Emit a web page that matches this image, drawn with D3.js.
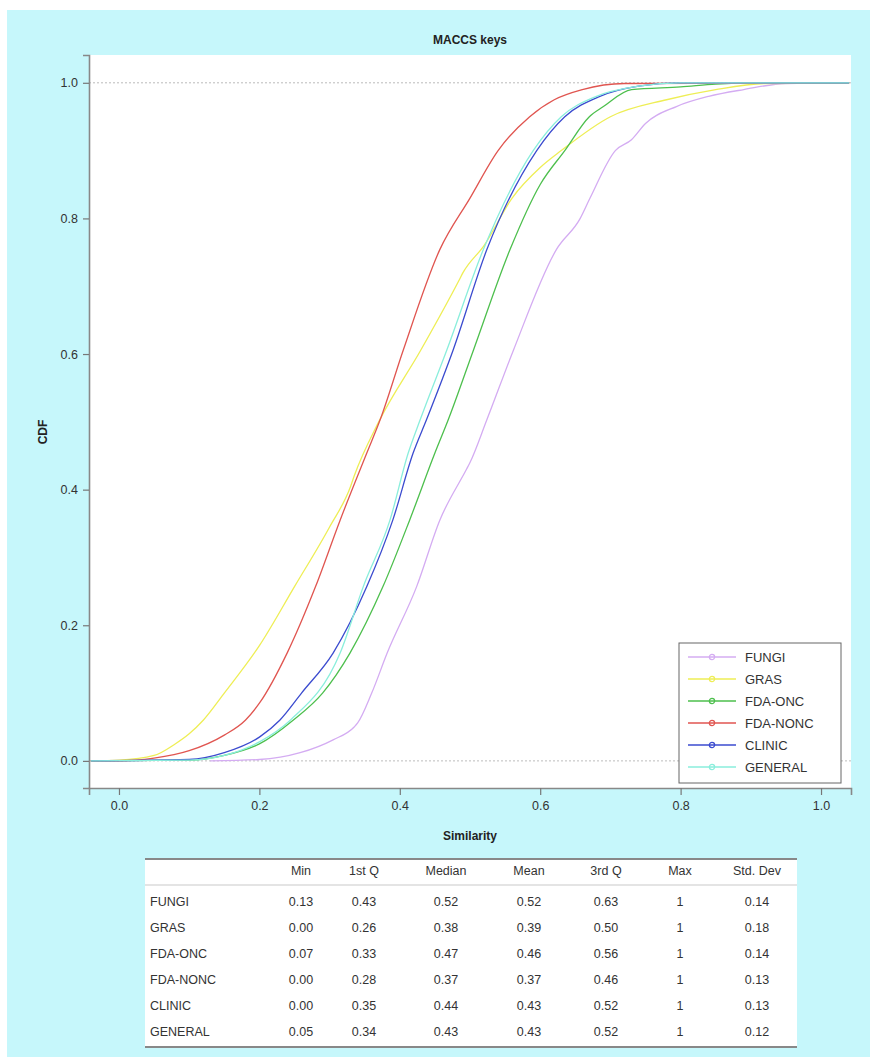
<html>
<head>
<title>MACCS keys</title>
<script src="https://d3js.org/d3.v7.min.js"></script>
<style>
  body { margin: 0; background: #fff; }
  text { font-family: "Liberation Sans", Arial, sans-serif; }
</style>
</head>
<body>
<div id="chart"></div>
<script>
// series names and colours
const seriesNames = ["FUNGI", "GRAS", "FDA-ONC", "FDA-NONC", "CLINIC", "GENERAL"];
const seriesColors = ["#d4acf2", "#eeee55", "#4dbf4d", "#e05550", "#3b4bcf", "#8aeedc"];

// CDF knots (similarity, cdf)
const fungiX   = [0.13, 0.2, 0.258, 0.305, 0.335, 0.34, 0.36, 0.382, 0.424, 0.457, 0.495, 0.5, 0.524, 0.562, 0.623, 0.657, 0.671, 0.707, 0.73, 0.75, 0.794, 0.84, 0.89, 0.95, 1.04];
const fungiY   = [0, 0.002, 0.012, 0.031, 0.05, 0.056, 0.1, 0.159, 0.257, 0.355, 0.43, 0.44, 0.503, 0.606, 0.754, 0.8, 0.83, 0.9, 0.916, 0.94, 0.965, 0.98, 0.99, 0.999, 1];
const grasX    = [-0.04, 0, 0.05, 0.08, 0.1, 0.12, 0.15, 0.2, 0.25, 0.3, 0.33, 0.335, 0.37, 0.43, 0.485, 0.49, 0.52, 0.56, 0.6, 0.63, 0.7, 0.78, 0.85, 0.92, 1.04];
const grasY    = [0, 0.001, 0.008, 0.025, 0.04, 0.06, 0.1, 0.17, 0.257, 0.345, 0.405, 0.42, 0.5, 0.606, 0.71, 0.72, 0.76, 0.83, 0.875, 0.9, 0.95, 0.975, 0.99, 0.999, 1];
const fdaOncX  = [-0.04, 0.1, 0.15, 0.2, 0.248, 0.29, 0.329, 0.376, 0.414, 0.45, 0.469, 0.505, 0.557, 0.6, 0.635, 0.67, 0.69, 0.73, 0.8, 0.85, 0.9, 1.04];
const fdaOncY  = [0, 0.001, 0.008, 0.025, 0.06, 0.1, 0.159, 0.257, 0.355, 0.454, 0.503, 0.606, 0.754, 0.85, 0.9, 0.95, 0.965, 0.99, 0.994, 0.998, 1, 1];
const fdaNoncX = [-0.04, 0, 0.05, 0.1, 0.15, 0.18, 0.2, 0.24, 0.28, 0.315, 0.353, 0.372, 0.405, 0.457, 0.5, 0.54, 0.585, 0.62, 0.66, 0.72, 1.04];
const fdaNoncY = [0, 0, 0.004, 0.015, 0.038, 0.06, 0.085, 0.16, 0.257, 0.355, 0.454, 0.503, 0.606, 0.754, 0.83, 0.9, 0.95, 0.975, 0.99, 0.999, 1];
const clinicX  = [-0.04, 0.1, 0.15, 0.2, 0.229, 0.26, 0.305, 0.353, 0.39, 0.419, 0.438, 0.476, 0.524, 0.595, 0.635, 0.685, 0.74, 0.8, 1.04];
const clinicY  = [0, 0.002, 0.012, 0.035, 0.06, 0.1, 0.159, 0.257, 0.355, 0.454, 0.503, 0.606, 0.754, 0.9, 0.95, 0.98, 0.995, 1, 1];
const generalX = [-0.04, 0.1, 0.15, 0.2, 0.244, 0.315, 0.348, 0.386, 0.412, 0.429, 0.467, 0.519, 0.59, 0.63, 0.68, 0.74, 0.8, 1.04];
const generalY = [0, 0.001, 0.008, 0.028, 0.06, 0.159, 0.257, 0.355, 0.454, 0.503, 0.606, 0.754, 0.9, 0.95, 0.98, 0.995, 1, 1];

const seriesX = [fungiX, grasX, fdaOncX, fdaNoncX, clinicX, generalX];
const seriesY = [fungiY, grasY, fdaOncY, fdaNoncY, clinicY, generalY];

const xTicks = [0, 0.2, 0.4, 0.6, 0.8, 1.0];
const yTicks = [0, 0.2, 0.4, 0.6, 0.8, 1.0];

// summary table
const tableCols = ["Min", "1st Q", "Median", "Mean", "3rd Q", "Max", "Std. Dev"];
const tableRows = [
  ["0.13", "0.43", "0.52", "0.52", "0.63", "1", "0.14"],
  ["0.00", "0.26", "0.38", "0.39", "0.50", "1", "0.18"],
  ["0.07", "0.33", "0.47", "0.46", "0.56", "1", "0.14"],
  ["0.00", "0.28", "0.37", "0.37", "0.46", "1", "0.13"],
  ["0.00", "0.35", "0.44", "0.43", "0.52", "1", "0.13"],
  ["0.05", "0.34", "0.43", "0.43", "0.52", "1", "0.12"]
];

const W = 870, H = 1057;
const svg = d3.select("#chart").append("svg").attr("width", W).attr("height", H);

// cyan frame
svg.append("rect").attr("x", 7).attr("y", 10).attr("width", W - 7).attr("height", H - 10).attr("fill", "#c6f7fb");

// plot panel
const pl = 89, pr = 851, pt = 55, pb = 788;
svg.append("rect").attr("x", pl).attr("y", pt).attr("width", pr - pl).attr("height", pb - pt).attr("fill", "#fff");

const x = d3.scaleLinear().domain([-0.0427, 1.0427]).range([pl, pr]);
const y = d3.scaleLinear().domain([-0.04, 1.041]).range([pb, pt]);

// dotted reference lines at 0 and 1
svg.selectAll(".ref").data([0, 1]).enter().append("line")
  .attr("x1", pl).attr("x2", pr)
  .attr("y1", d => y(d)).attr("y2", d => y(d))
  .attr("stroke", "#aaa").attr("stroke-width", 0.8).attr("stroke-dasharray", "2,2");

// curves
const line = d3.line().x(d => x(d[0])).y(d => y(d[1])).curve(d3.curveMonotoneX);
seriesNames.forEach((name, i) => {
  const pts = d3.zip(seriesX[i], seriesY[i]);
  svg.append("path").datum(pts).attr("d", line)
    .attr("fill", "none").attr("stroke", seriesColors[i]).attr("stroke-width", 1.3);
});

// axes
const xAxis = svg.append("g").attr("transform", "translate(0," + pb + ")")
  .call(d3.axisBottom(x).tickValues(xTicks).tickFormat(d3.format(".1f")).tickSize(7).tickPadding(6));
const yAxis = svg.append("g").attr("transform", "translate(" + pl + ",0)")
  .call(d3.axisLeft(y).tickValues(yTicks).tickFormat(d3.format(".1f")).tickSize(6).tickPadding(5));
[xAxis, yAxis].forEach(a => {
  a.select(".domain").attr("stroke", "#888").attr("stroke-width", 1.6);
  a.selectAll(".tick line").attr("stroke", "#777").attr("stroke-width", 1.2);
  a.selectAll(".tick text").attr("fill", "#333").style("font-size", "12.5px")
    .style("font-family", "'Liberation Sans', Arial, sans-serif");
});

// titles
svg.append("text").attr("x", (pl + pr) / 2).attr("y", 44).attr("text-anchor", "middle")
  .style("font-size", "12px").style("font-weight", "bold").attr("fill", "#222").text("MACCS keys");
svg.append("text").attr("x", (pl + pr) / 2).attr("y", 840).attr("text-anchor", "middle")
  .style("font-size", "12px").style("font-weight", "bold").attr("fill", "#222").text("Similarity");
svg.append("text").attr("transform", "translate(47,432) rotate(-90)").attr("text-anchor", "middle")
  .style("font-size", "12px").style("font-weight", "bold").attr("fill", "#222").text("CDF");

// legend
const lg = svg.append("g").attr("transform", "translate(679,643)");
lg.append("rect").attr("width", 162).attr("height", 140).attr("fill", "#fff").attr("stroke", "#666").attr("stroke-width", 1);
const lgScale = d3.scalePoint().domain(seriesNames).range([14, 124]);
const items = lg.selectAll(".item").data(seriesNames).enter().append("g")
  .attr("transform", d => "translate(0," + lgScale(d) + ")");
items.append("line").attr("x1", 9).attr("x2", 57).attr("stroke", (d, i) => seriesColors[i]).attr("stroke-width", 1.3);
items.append("circle").attr("cx", 33).attr("r", 2.6).attr("fill", "none").attr("stroke", (d, i) => seriesColors[i]).attr("stroke-width", 1.3);
items.append("text").attr("x", 66).attr("dy", "0.35em").style("font-size", "13px").attr("fill", "#333").text(d => d);

// table
const tl = 145, tr = 797, tTop = 859, tBot = 1047;
svg.append("rect").attr("x", tl).attr("y", tTop).attr("width", tr - tl).attr("height", tBot - tTop).attr("fill", "#fff");
svg.append("line").attr("x1", tl).attr("x2", tr).attr("y1", tTop).attr("y2", tTop).attr("stroke", "#888").attr("stroke-width", 2);
svg.append("line").attr("x1", tl).attr("x2", tr).attr("y1", tBot).attr("y2", tBot).attr("stroke", "#888").attr("stroke-width", 2);
svg.append("line").attr("x1", tl).attr("x2", tr).attr("y1", 885).attr("y2", 885).attr("stroke", "#bbb").attr("stroke-width", 0.8);

const colPos = [301, 364, 446, 529, 606, 680, 757];
const rowY = d3.scalePoint().domain(seriesNames).range([902, 1032]);

svg.selectAll(".th").data(tableCols).enter().append("text")
  .attr("x", (d, i) => colPos[i]).attr("y", 871).attr("dy", "0.35em").attr("text-anchor", "middle")
  .style("font-size", "12.5px").attr("fill", "#333").text(d => d);
svg.selectAll(".rl").data(seriesNames).enter().append("text")
  .attr("x", 150).attr("y", d => rowY(d)).attr("dy", "0.35em")
  .style("font-size", "12.5px").attr("fill", "#333").text(d => d);
tableRows.forEach((row, r) => {
  svg.selectAll(".c" + r).data(row).enter().append("text")
    .attr("x", (d, i) => colPos[i]).attr("y", rowY(seriesNames[r])).attr("dy", "0.35em").attr("text-anchor", "middle")
    .style("font-size", "12.5px").attr("fill", "#333").text(d => d);
});
</script>
</body>
</html>
